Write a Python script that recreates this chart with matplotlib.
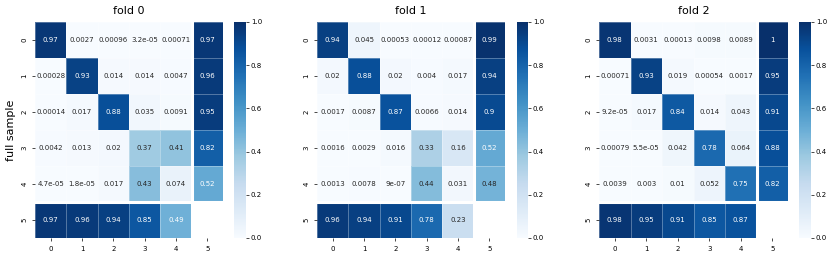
import numpy as np
import matplotlib
matplotlib.use("Agg")
import matplotlib.pyplot as plt
import seaborn as sns

labels = ["0", "1", "2", "3", "4", "5"]
titles = ["fold 0", "fold 1", "fold 2"]

fold0 = [
    [0.97, 0.0027, 0.00096, 3.2e-05, 0.00071, 0.97],
    [0.00028, 0.93, 0.014, 0.014, 0.0047, 0.96],
    [0.00014, 0.017, 0.88, 0.035, 0.0091, 0.95],
    [0.0042, 0.013, 0.02, 0.37, 0.41, 0.82],
    [4.7e-05, 1.8e-05, 0.017, 0.43, 0.074, 0.52],
    [0.97, 0.96, 0.94, 0.85, 0.49, np.nan],
]
fold1 = [
    [0.94, 0.045, 0.00053, 0.00012, 0.00087, 0.99],
    [0.02, 0.88, 0.02, 0.004, 0.017, 0.94],
    [0.0017, 0.0087, 0.87, 0.0066, 0.014, 0.9],
    [0.0016, 0.0029, 0.016, 0.33, 0.16, 0.52],
    [0.0013, 0.0078, 9e-07, 0.44, 0.031, 0.48],
    [0.96, 0.94, 0.91, 0.78, 0.23, np.nan],
]
fold2 = [
    [0.98, 0.0031, 0.00013, 0.0098, 0.0089, 1.0],
    [0.00071, 0.93, 0.019, 0.00054, 0.0017, 0.95],
    [9.2e-05, 0.017, 0.84, 0.014, 0.043, 0.91],
    [0.00079, 5.5e-05, 0.042, 0.78, 0.064, 0.88],
    [0.0039, 0.003, 0.01, 0.052, 0.75, 0.82],
    [0.98, 0.95, 0.91, 0.85, 0.87, np.nan],
]
folds = [fold0, fold1, fold2]

W, H = 830, 254
fig = plt.figure(figsize=(8.3, 2.54), dpi=100)

# pixel boxes: heatmap left/right, colorbar left/right
boxes = [(35, 223, 234, 246), (317, 505, 517, 528), (599, 788, 799, 811)]
top, bottom = 22, 238

for i, (data, title) in enumerate(zip(folds, titles)):
    hl, hr, cl, cr = boxes[i]
    ax = fig.add_axes([hl / W, (H - bottom) / H, (hr - hl) / W, (bottom - top) / H])
    cax = fig.add_axes([cl / W, (H - bottom) / H, (cr - cl) / W, (bottom - top) / H])
    arr = np.array(data)
    sns.heatmap(arr, ax=ax, cbar_ax=cax, cmap="Blues", vmin=0, vmax=1,
                annot=True, fmt=".2g", annot_kws={"fontsize": 5},
                linewidths=0.4, linecolor=(1, 1, 1, 0.3),
                mask=np.isnan(arr), xticklabels=labels, yticklabels=labels)
    ax.axhline(5, color="white", lw=2.2)
    ax.axvline(5, color="white", lw=2.2)
    ax.set_title(title, fontsize=8)
    ax.tick_params(labelsize=5, length=2, width=0.5)
    ax.set_yticklabels(labels, rotation=90, va="center")
    ax.set_xticklabels(labels, rotation=0)
    cax.tick_params(labelsize=5, length=2, width=0.5, pad=1.5)
    if i == 0:
        ax.set_ylabel("full sample", fontsize=8)

fig.savefig("out.png", dpi=100)
